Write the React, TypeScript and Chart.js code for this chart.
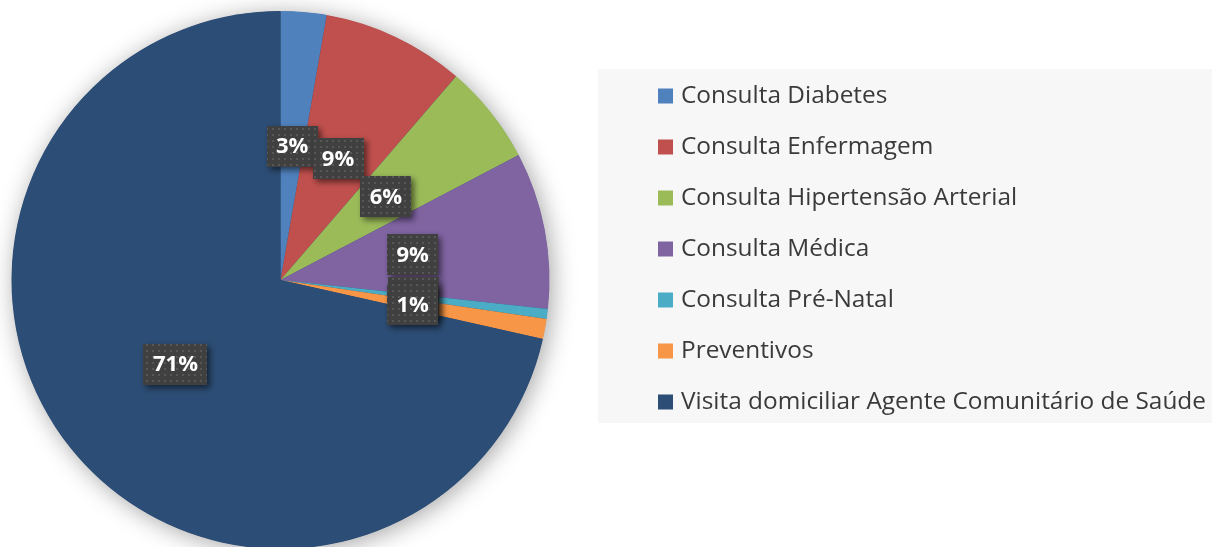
import React, { useEffect, useRef } from "react";
import { Chart, registerables } from "chart.js";

Chart.register(...registerables);

const categories: string[] = [
  "Consulta Diabetes",
  "Consulta Enfermagem",
  "Consulta Hipertensão Arterial",
  "Consulta Médica",
  "Consulta Pré-Natal",
  "Preventivos",
  "Visita domiciliar Agente Comunitário de Saúde",
];

const shares: number[] = [2.75, 8.58, 5.98, 9.41, 0.6, 1.2, 71.48];

const sliceColors: string[] = [
  "#4F81BD",
  "#C0504D",
  "#9BBB59",
  "#8064A2",
  "#4BACC6",
  "#F79646",
  "#2C4D75",
];

const W = 1212;
const H = 564;

function makePattern(ctx: CanvasRenderingContext2D): CanvasPattern | string {
  const p = document.createElement("canvas");
  p.width = 6;
  p.height = 6;
  const c = p.getContext("2d");
  if (!c) return "#404040";
  c.fillStyle = "#404040";
  c.fillRect(0, 0, 6, 6);
  c.fillStyle = "#575757";
  c.fillRect(2, 2, 2, 2);
  return ctx.createPattern(p, "repeat") || "#404040";
}

const shadowPlugin = {
  id: "pieShadow",
  beforeDatasetsDraw(chart: any) {
    const meta = chart.getDatasetMeta(0);
    const arc = meta.data[0];
    if (!arc) return;
    const { x, y, outerRadius } = arc.getProps(["x", "y", "outerRadius"], true);
    const ctx = chart.ctx;
    ctx.save();
    ctx.shadowColor = "rgba(0,0,0,0.36)";
    ctx.shadowBlur = 24;
    ctx.shadowOffsetX = 3;
    ctx.shadowOffsetY = 3;
    ctx.fillStyle = "#2C4D75";
    ctx.beginPath();
    ctx.arc(x, y, outerRadius - 0.5, 0, Math.PI * 2);
    ctx.fill();
    ctx.restore();
  },
};

const labelPlugin = {
  id: "pctLabels",
  afterDatasetsDraw(chart: any) {
    const ctx: CanvasRenderingContext2D = chart.ctx;
    const meta = chart.getDatasetMeta(0);
    const data: number[] = chart.data.datasets[0].data;
    const total = data.reduce((a, b) => a + b, 0);
    const pattern = makePattern(ctx);
    ctx.save();
    ctx.font = "bold 22px 'Open Sans'";
    ctx.textAlign = "center";
    ctx.textBaseline = "middle";
    meta.data.forEach((arc: any, i: number) => {
      const pos = arc.tooltipPosition(true);
      const txt = Math.round((data[i] / total) * 100) + "%";
      const tw = ctx.measureText(txt).width;
      const bw = Math.round(tw + 19);
      const bh = 41;
      const bx = Math.round(pos.x - bw / 2);
      const by = Math.round(pos.y - bh / 2);
      ctx.save();
      ctx.shadowColor = "rgba(0,0,0,0.55)";
      ctx.shadowBlur = 6;
      ctx.shadowOffsetX = 3;
      ctx.shadowOffsetY = 3;
      ctx.fillStyle = pattern as any;
      ctx.fillRect(bx, by, bw, bh);
      ctx.restore();
      ctx.fillStyle = "#FFFFFF";
      ctx.fillText(txt, pos.x, pos.y + 1);
    });
    ctx.restore();
  },
};

const legendPlugin = {
  id: "sideLegend",
  afterDraw(chart: any) {
    const ctx: CanvasRenderingContext2D = chart.ctx;
    const labels: string[] = chart.data.labels;
    const colors: string[] = chart.data.datasets[0].backgroundColor;
    ctx.save();
    ctx.font = "24.4px 'Open Sans'";
    ctx.textAlign = "left";
    ctx.textBaseline = "middle";
    const top = 96;
    const step = 51;
    labels.forEach((lab, i) => {
      const cy = top + i * step;
      ctx.fillStyle = colors[i];
      ctx.fillRect(658, cy - 7.5, 15, 15);
      ctx.fillStyle = "#3A3A3A";
      ctx.fillText(lab, 681, cy);
    });
    ctx.restore();
  },
};

const bgPlugin = {
  id: "legendBg",
  beforeDraw(chart: any) {
    const ctx: CanvasRenderingContext2D = chart.ctx;
    ctx.save();
    ctx.fillStyle = "#FFFFFF";
    ctx.fillRect(0, 0, chart.width, chart.height);
    ctx.fillStyle = "#F7F7F7";
    ctx.fillRect(598, 69, chart.width - 598, 354);
    ctx.restore();
  },
};

export default function App() {
  const ref = useRef<HTMLCanvasElement | null>(null);
  useEffect(() => {
    if (!ref.current) return;
    const chart = new Chart(ref.current, {
      type: "pie",
      data: {
        labels: categories,
        datasets: [
          {
            data: shares,
            backgroundColor: sliceColors,
            borderWidth: 0,
          },
        ],
      },
      options: {
        responsive: false,
        animation: false,
        events: [],
        layout: {
          padding: { left: 11.5, right: W - 549.5, top: 11, bottom: H - 549 },
        },
        plugins: {
          legend: { display: false },
          tooltip: { enabled: false },
          title: { display: false },
        },
      },
      plugins: [bgPlugin, shadowPlugin, labelPlugin, legendPlugin],
    });
    return () => chart.destroy();
  }, []);
  return (
    <div
      style={{
        position: "fixed",
        left: 0,
        top: 0,
        width: W,
        height: 547,
        overflow: "hidden",
        background: "#fff",
      }}
    >
      <canvas ref={ref} width={W} height={H} style={{ display: "block", width: W, height: H }} />
    </div>
  );
}
